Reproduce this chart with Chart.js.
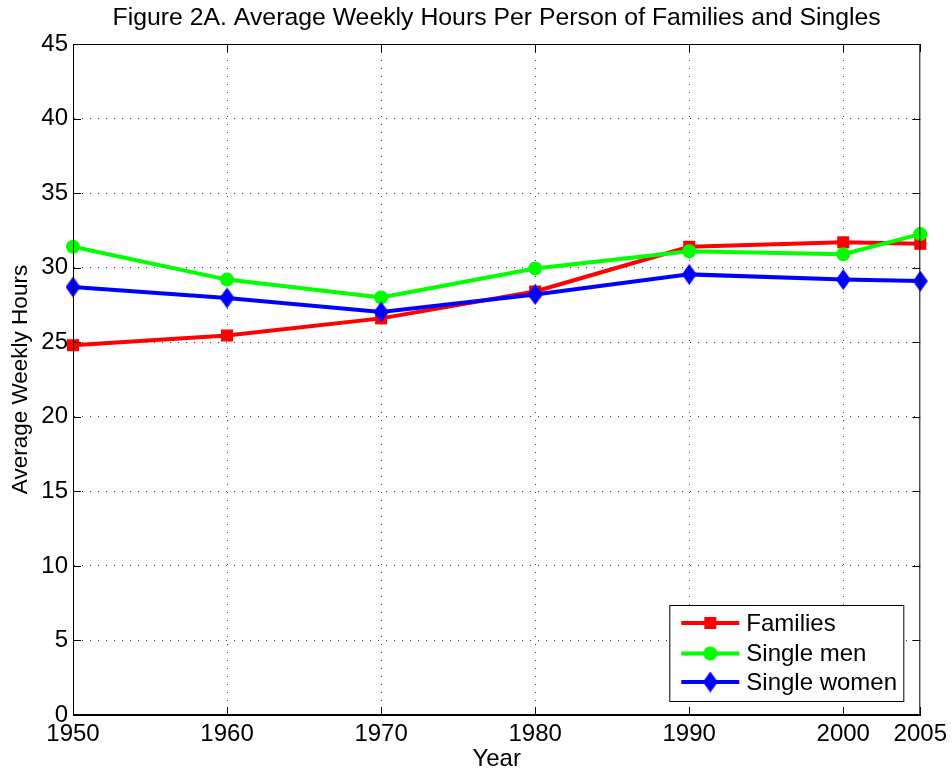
<!DOCTYPE html>
<html>
<head>
<meta charset="utf-8">
<script src="https://cdn.jsdelivr.net/npm/chart.js@4.4.1/dist/chart.umd.min.js"></script>
<style>
  html, body { margin: 0; padding: 0; background: #fff; }
  #wrap { width: 952px; height: 774px; }
</style>
</head>
<body>
<div id="wrap"><canvas id="hoursChart" width="952" height="774"></canvas></div>
<script>
// Data
const years = [1950, 1960, 1970, 1980, 1990, 2000, 2005];
const families = [24.8, 25.45, 26.6, 28.4, 31.4, 31.7, 31.6];
const singleMen = [31.4, 29.2, 28.0, 29.95, 31.1, 30.9, 32.25];
const singleWomen = [28.7, 27.97, 27.03, 28.2, 29.55, 29.2, 29.1];
const xTickValues = [1950, 1960, 1970, 1980, 1990, 2000, 2005];
const yTickValues = [0, 5, 10, 15, 20, 25, 30, 35, 40, 45];

const FONT = 'Liberation Sans, Arial, Helvetica, sans-serif';
const FONT_SIZE = 24;
Chart.defaults.font.family = FONT;
Chart.defaults.color = '#000';

// MATLAB-like diamond marker (taller than wide)
function makeDiamond(color, w, h) {
  const c = document.createElement('canvas');
  c.width = w;
  c.height = h;
  const g = c.getContext('2d');
  g.fillStyle = color;
  g.beginPath();
  g.moveTo(w / 2, 0);
  g.lineTo(w, h / 2);
  g.lineTo(w / 2, h);
  g.lineTo(0, h / 2);
  g.closePath();
  g.fill();
  return c;
}
const diamond = makeDiamond('#0000ff', 15, 21);

function toPoints(values) {
  return years.map((yr, i) => ({ x: yr, y: values[i] }));
}

// dotted grid, but nothing on the edges (the frame covers them)
function gridColor(lo, hi) {
  return (c) => {
    const v = c.tick ? c.tick.value : null;
    if (v === lo || v === hi) return 'rgba(0,0,0,0)';
    return 'rgba(0,0,0,0.75)';
  };
}

// Box around the axes plus inward tick marks
const axesBox = {
  id: 'axesBox',
  afterDatasetsDraw(chart) {
    const { ctx, chartArea: a, scales } = chart;
    ctx.save();
    ctx.strokeStyle = '#000';
    ctx.lineWidth = 1;
    ctx.setLineDash([]);
    ctx.strokeRect(a.left + 0.5, a.top + 0.5, a.right - a.left - 1, a.bottom - a.top - 1);
    const len = 8;
    ctx.beginPath();
    scales.x.ticks.forEach((t) => {
      const px = Math.round(scales.x.getPixelForValue(t.value)) + 0.5;
      ctx.moveTo(px, a.bottom);
      ctx.lineTo(px, a.bottom - len);
      ctx.moveTo(px, a.top);
      ctx.lineTo(px, a.top + len);
    });
    scales.y.ticks.forEach((t) => {
      const py = Math.round(scales.y.getPixelForValue(t.value)) + 0.5;
      ctx.moveTo(a.left, py);
      ctx.lineTo(a.left + len, py);
      ctx.moveTo(a.right, py);
      ctx.lineTo(a.right - len, py);
    });
    ctx.stroke();
    ctx.restore();
  },
};

// Legend drawn inside the plot, lower right, with line + marker samples
const insideLegend = {
  id: 'insideLegend',
  afterDraw(chart) {
    const { ctx, chartArea: a } = chart;
    const boxW = 234;
    const boxH = 96;
    const x0 = a.right - 17 - boxW;
    const y0 = a.bottom - 14 - boxH;
    ctx.save();
    ctx.fillStyle = '#fff';
    ctx.fillRect(x0, y0, boxW, boxH);
    ctx.strokeStyle = '#000';
    ctx.lineWidth = 1;
    ctx.strokeRect(x0 + 0.5, y0 + 0.5, boxW, boxH);
    const rows = [18, 48.5, 77];
    chart.data.datasets.forEach((ds, i) => {
      const cy = y0 + rows[i];
      ctx.strokeStyle = ds.borderColor;
      ctx.lineWidth = ds.borderWidth;
      ctx.beginPath();
      ctx.moveTo(x0 + 12, cy);
      ctx.lineTo(x0 + 70, cy);
      ctx.stroke();
      const mx = x0 + 41;
      ctx.fillStyle = ds.pointBackgroundColor;
      if (ds.pointStyle === 'rect') {
        ctx.fillRect(mx - 6, cy - 6, 12, 12);
      } else if (ds.pointStyle === 'circle') {
        ctx.beginPath();
        ctx.arc(mx, cy, ds.pointRadius, 0, Math.PI * 2);
        ctx.fill();
      } else {
        ctx.drawImage(ds.pointStyle, mx - ds.pointStyle.width / 2, cy - ds.pointStyle.height / 2);
      }
      ctx.fillStyle = '#000';
      ctx.font = FONT_SIZE + 'px ' + FONT;
      ctx.textBaseline = 'middle';
      ctx.textAlign = 'left';
      ctx.fillText(ds.label, x0 + 77, cy + 1);
    });
    ctx.restore();
  },
};

const ctx = document.getElementById('hoursChart');
new Chart(ctx, {
  type: 'line',
  data: {
    datasets: [
      {
        label: 'Families',
        data: toPoints(families),
        borderColor: '#ff0000',
        backgroundColor: '#ff0000',
        pointBackgroundColor: '#ff0000',
        pointBorderWidth: 0,
        pointStyle: 'rect',
        pointRadius: 8.5,
        borderWidth: 4,
        tension: 0,
        clip: false,
        order: 3,
      },
      {
        label: 'Single men',
        data: toPoints(singleMen),
        borderColor: '#00ff00',
        backgroundColor: '#00ff00',
        pointBackgroundColor: '#00ff00',
        pointBorderWidth: 0,
        pointStyle: 'circle',
        pointRadius: 7,
        borderWidth: 4,
        tension: 0,
        clip: false,
        order: 2,
      },
      {
        label: 'Single women',
        data: toPoints(singleWomen),
        borderColor: '#0000ff',
        backgroundColor: '#0000ff',
        pointBackgroundColor: '#0000ff',
        pointBorderWidth: 0,
        pointStyle: diamond,
        pointRadius: 8,
        borderWidth: 4,
        tension: 0,
        clip: false,
        order: 1,
      },
    ],
  },
  options: {
    responsive: false,
    animation: false,
    layout: {
      padding: { left: 0, right: 30, top: 0, bottom: 0 },
    },
    plugins: {
      legend: { display: false },
      tooltip: { enabled: false },
      title: { display: false },
    },
    scales: {
      // empty top axis, only used to carry the figure title centred over the plot
      xTop: {
        type: 'linear',
        position: 'top',
        min: 1950,
        max: 2005,
        afterFit(scale) {
          scale.height = 44;
        },
        ticks: { display: false },
        grid: { display: false, drawTicks: false },
        border: { display: false },
        title: {
          display: true,
          text: 'Figure 2A. Average Weekly Hours Per Person of Families and Singles',
          color: '#000',
          font: { size: 24.8, lineHeight: 1.2 },
          padding: { top: 3, bottom: 0 },
        },
      },
      x: {
        type: 'linear',
        min: 1950,
        max: 2005,
        afterBuildTicks(scale) {
          scale.ticks = xTickValues.map((v) => ({ value: v }));
        },
        afterFit(scale) {
          scale.height = 59;
        },
        ticks: {
          autoSkip: false,
          maxRotation: 0,
          padding: 5,
          font: { size: FONT_SIZE },
          color: '#000',
          callback: (v) => String(v),
        },
        grid: {
          color: gridColor(1950, 2005),
          lineWidth: 1,
          drawTicks: false,
        },
        border: { display: true, color: '#000', dash: [1, 7] },
        title: {
          display: true,
          text: 'Year',
          font: { size: FONT_SIZE },
          color: '#000',
          padding: { top: 0, bottom: 0 },
        },
      },
      y: {
        min: 0,
        max: 45,
        afterBuildTicks(scale) {
          scale.ticks = yTickValues.map((v) => ({ value: v }));
        },
        afterFit(scale) {
          scale.width = 73;
        },
        ticks: {
          padding: 5,
          font: { size: FONT_SIZE },
          color: '#000',
        },
        grid: {
          color: gridColor(0, 45),
          lineWidth: 1,
          drawTicks: false,
        },
        border: { display: true, color: '#000', dash: [1, 7] },
        title: {
          display: true,
          text: 'Average Weekly Hours',
          font: { size: 22.5 },
          color: '#000',
          padding: { top: 7, bottom: 0 },
        },
      },
    },
  },
  plugins: [axesBox, insideLegend],
});
</script>
</body>
</html>
